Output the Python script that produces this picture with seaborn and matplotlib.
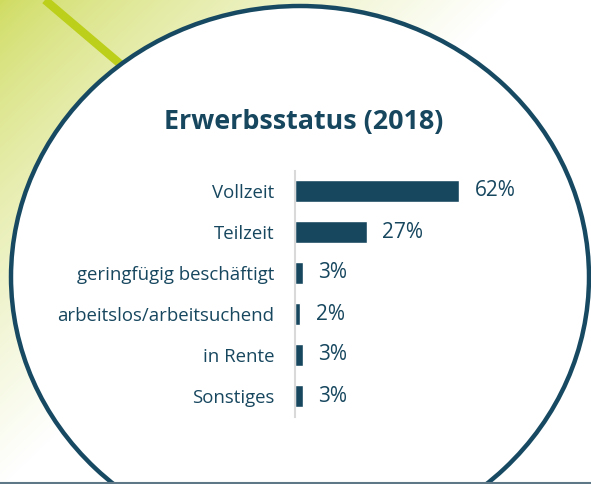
import numpy as np
import pandas as pd
import seaborn as sns
import matplotlib.pyplot as plt
from matplotlib.patches import Ellipse

# Data
categories = ['Vollzeit', 'Teilzeit', 'geringfügig beschäftigt',
              'arbeitslos/arbeitsuchend', 'in Rente', 'Sonstiges']
values = [62, 27, 3, 2, 3, 3]
title = 'Erwerbsstatus (2018)'

navy = '#17475f'
df = pd.DataFrame({'status': categories, 'anteil': values})

sns.set_style('white')
plt.rcParams['font.family'] = ['Open Sans', 'DejaVu Sans']

W, H = 591, 484
fig = plt.figure(figsize=(W / 100, H / 100), dpi=100)

# Background: green corner gradient, circle, diagonal line
bg = fig.add_axes([0, 0, 1, 1], zorder=0)
bg.set_xlim(0, W)
bg.set_ylim(H, 0)
bg.axis('off')
yy, xx = np.mgrid[0:H, 0:W]
t = np.clip((1.1 * xx + 1.15 * yy) / 560, 0, 1) ** 0.75
c0 = np.array([0.81, 0.86, 0.37])
grad = c0 * (1 - t[..., None]) + np.ones(3) * t[..., None]
bg.imshow(grad, extent=(0, W, H, 0), aspect='auto', zorder=0)
bg.plot([45, 125], [0, 68], color='#bccf1a', lw=6, solid_capstyle='butt', zorder=1)
bg.add_patch(Ellipse((300, 277), 578, 542, facecolor='white',
                     edgecolor='#174a62', lw=3.2, zorder=2))
bg.axhline(H - 1.5, color='#5f7888', lw=1.5, zorder=3)

# Title
fig.text(304 / W, 1 - 122 / H, title, ha='center', va='center',
         fontsize=19.4, fontweight='bold', color=navy)

# Bar chart
ax = fig.add_axes([295 / W, 1 - 416.5 / H, 265 / W, 246 / H], zorder=1)
ax.patch.set_alpha(0)
sns.barplot(data=df, x='anteil', y='status', color=navy, width=0.54,
            saturation=1, ax=ax)
ax.set_xlim(0, 100)
ax.set_ylim(5.5, -0.5)
ax.set_xlabel('')
ax.set_ylabel('')
ax.set_xticks([])
for s in ['top', 'right', 'bottom']:
    ax.spines[s].set_visible(False)
ax.spines['left'].set_color('#d9d9d9')
ax.spines['left'].set_linewidth(1.5)
ax.spines['left'].set_bounds(5.5, -0.5)
ax.tick_params(axis='y', length=0, pad=15, labelsize=13.4, labelcolor=navy)
ax.bar_label(ax.containers[0], labels=[f'{v}%' for v in values],
             padding=11, fontsize=15, color=navy)

fig.savefig('out.png', dpi=100)
